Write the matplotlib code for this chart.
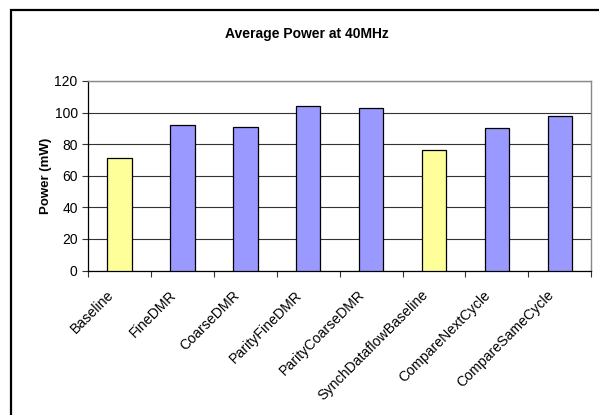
import numpy as np
import matplotlib.pyplot as plt
from matplotlib.patches import Rectangle

plt.rcParams['font.family'] = ['Liberation Sans', 'DejaVu Sans']

# Power per configuration (mW)
configs = ['Baseline', 'FineDMR', 'CoarseDMR', 'ParityFineDMR', 'ParityCoarseDMR',
           'SynchDataflowBaseline', 'CompareNextCycle', 'CompareSameCycle']
power = [71, 92, 91, 104, 103, 76, 90, 98]
is_baseline = [True, False, False, False, False, True, False, False]

yellow = '#FFFF99'
blue = '#9999FF'
colors = [yellow if b else blue for b in is_baseline]

fig = plt.figure(figsize=(5.99, 4.15), dpi=100)
ax = fig.add_axes([0.147, 0.348, 0.84, 0.457])

x = np.arange(len(configs))
ax.bar(x, power, width=0.39, color=colors, edgecolor='black', linewidth=0.9, zorder=3)

ax.set_xlim(-0.5, len(configs) - 0.5)
ax.set_ylim(0, 120)
ax.set_yticks(np.arange(0, 121, 20))
ax.yaxis.grid(True, color='#333333', linewidth=0.8, zorder=0)
ax.set_axisbelow(True)

# tick marks between categories, labels drawn separately below
ax.set_xticks(np.arange(-0.5, len(configs)))
ax.set_xticklabels([])
ax.tick_params(axis='x', length=4, width=0.8, color='#333333')
ax.tick_params(axis='y', length=4, width=0.8, labelsize=10, color='#333333')

for i, name in enumerate(configs):
    ax.annotate(name, xy=(i, 0), xycoords=('data', 'axes fraction'),
                xytext=(-9.5, -12.5), textcoords='offset points',
                rotation=45, ha='right', va='top', rotation_mode='anchor',
                fontsize=10.2)

for side in ['top', 'right']:
    ax.spines[side].set_color('#888888')
    ax.spines[side].set_linewidth(1.0)
for side in ['left', 'bottom']:
    ax.spines[side].set_color('black')
    ax.spines[side].set_linewidth(0.9)

ax.set_ylabel('Power (mW)', fontsize=9.5, fontweight='bold', labelpad=2)
fig.text(0.512, 0.918, 'Average Power at 40MHz', ha='center', va='center',
         fontsize=10, fontweight='bold')

# outer chart frame
fig.patches.append(Rectangle((11 / 599, -0.1), 1.2, 1.1 - 10 / 415,
                             transform=fig.transFigure, fill=False,
                             edgecolor='black', linewidth=1.6))

fig.savefig('out.png', dpi=100)
